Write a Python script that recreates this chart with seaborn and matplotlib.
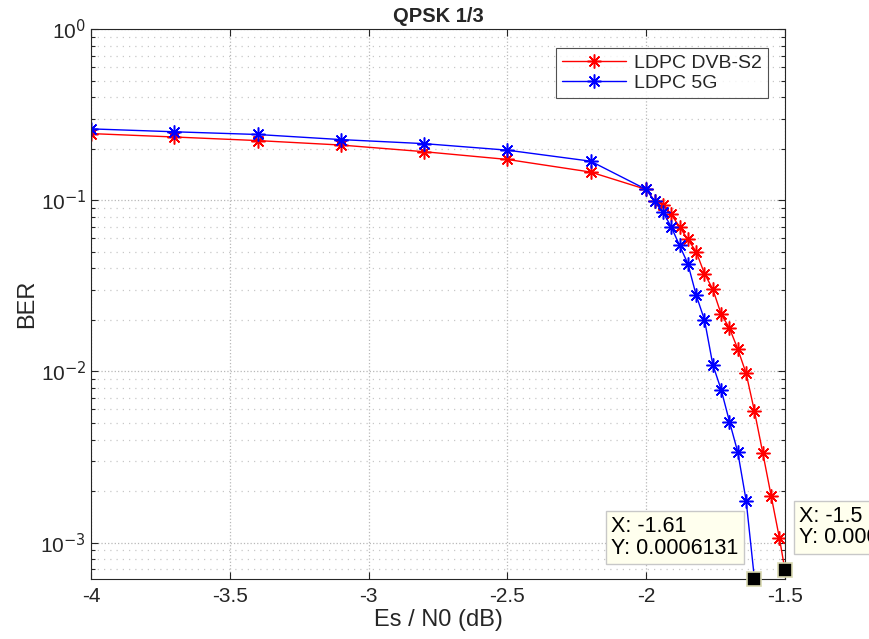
import numpy as np
import pandas as pd
import matplotlib
matplotlib.use("Agg")
import matplotlib.pyplot as plt
from matplotlib.ticker import LogLocator, NullFormatter, MultipleLocator, FuncFormatter
import seaborn as sns

# Es/N0 points (dB)
snr_dvbs2 = [-4.0, -3.7, -3.4, -3.1, -2.8, -2.5, -2.2, -2.0, -1.97, -1.94, -1.91,
             -1.88, -1.85, -1.82, -1.79, -1.76, -1.73, -1.70, -1.67, -1.64,
             -1.61, -1.58, -1.55, -1.52, -1.50]
ber_dvbs2 = [0.245, 0.234, 0.223, 0.210, 0.192, 0.173, 0.146, 0.1156, 0.0993,
             0.094, 0.0826, 0.070, 0.059, 0.0501, 0.0372, 0.0302, 0.0216,
             0.0179, 0.0135, 0.00973, 0.00585, 0.00334, 0.00188, 0.00106,
             0.000689]

snr_5g = [-4.0, -3.7, -3.4, -3.1, -2.8, -2.5, -2.2, -2.0, -1.97, -1.94, -1.91,
          -1.88, -1.85, -1.82, -1.79, -1.76, -1.73, -1.70, -1.67, -1.64, -1.61]
ber_5g = [0.261, 0.251, 0.242, 0.226, 0.214, 0.196, 0.169, 0.1156, 0.0989,
          0.0853, 0.070, 0.0545, 0.0426, 0.0279, 0.0200, 0.01094, 0.00782,
          0.00509, 0.00337, 0.00176, 0.0006131]

sns.set_style("ticks")
plt.rcParams["font.family"] = ["Liberation Sans", "DejaVu Sans"]
plt.rcParams["mathtext.default"] = "regular"

fig = plt.figure(figsize=(8.69, 6.39), dpi=100)
ax = fig.add_axes([91 / 869, 1 - 579 / 639, 694 / 869, 550 / 639])

asterisk = (8, 2, 0)  # MATLAB-like '*' marker
for xs, ys, lab, col in [(snr_dvbs2, ber_dvbs2, "LDPC DVB-S2", "#ff0000"),
                         (snr_5g, ber_5g, "LDPC 5G", "#0000ff")]:
    sns.lineplot(x=xs, y=ys, color=col, label=lab, ax=ax, sort=False,
                 linewidth=1.0, estimator=None, marker=asterisk,
                 markersize=10, markeredgewidth=1.1, markeredgecolor=col)

ax.set_yscale("log")
ax.set_xlim(-4, -1.5)
ax.set_ylim(min(ber_5g), 1)
ax.xaxis.set_major_locator(MultipleLocator(0.5))
ax.xaxis.set_major_formatter(FuncFormatter(lambda v, p: f"{v:g}"))
ax.yaxis.set_major_locator(LogLocator(base=10, numticks=10))
ax.yaxis.set_major_formatter(FuncFormatter(
    lambda v, p: r"$10^{\mathsf{%d}}$" % round(np.log10(v))))
ax.yaxis.set_minor_locator(LogLocator(base=10, subs=np.arange(2, 10), numticks=10))
ax.yaxis.set_minor_formatter(NullFormatter())

ax.tick_params(which="both", direction="in", top=True, right=True,
               labelsize=15, colors="#262626", width=0.8)
ax.tick_params(which="major", length=5)
ax.tick_params(which="minor", length=3)
ax.tick_params(axis="x", pad=6)
for s in ax.spines.values():
    s.set_color("#262626")
    s.set_linewidth(0.8)

ax.grid(which="major", color="#b8b8b8", linestyle=":", linewidth=0.9)
ax.grid(which="minor", axis="y", color="#c8c8c8", linestyle=(0, (1, 4)), linewidth=0.9)

ax.set_title("QPSK 1/3", fontsize=14.5, fontweight="bold", pad=5)
ax.set_xlabel("Es / N0 (dB)", fontsize=17, color="#262626", labelpad=2)
ax.set_ylabel("BER", fontsize=17, color="#262626", labelpad=2)

leg = ax.legend(loc="upper right",
                bbox_to_anchor=(0.975, 0.965), fontsize=14,
                frameon=True, fancybox=False, edgecolor="#262626",
                handlelength=3.3, handletextpad=0.4, borderpad=0.3,
                labelspacing=0.15, borderaxespad=0)
leg.get_frame().set_linewidth(0.8)

# data tips at the last point of each curve
tips = [
    (snr_5g[-1], ber_5g[-1], "X: -1.61\nY: 0.0006131", (-103, 45)),
    (snr_dvbs2[-1], ber_dvbs2[-1], "X: -1.5\nY: 0.0006890", (10, 46)),
]
for x, y, txt, off in tips:
    ax.plot(x, y, marker="s", markersize=10, color="black",
            markeredgecolor="#d8d8b0", markeredgewidth=1.2, clip_on=False, zorder=5)
    ax.annotate(txt, xy=(x, y), xytext=off, textcoords="offset points",
                ha="left", va="top", fontsize=15.5, color="black",
                annotation_clip=False, linespacing=1.0,
                bbox=dict(boxstyle="square,pad=0.25", fc="#ffffee", ec="#c8c8c8", lw=1))

fig.savefig("out.png", dpi=100)
